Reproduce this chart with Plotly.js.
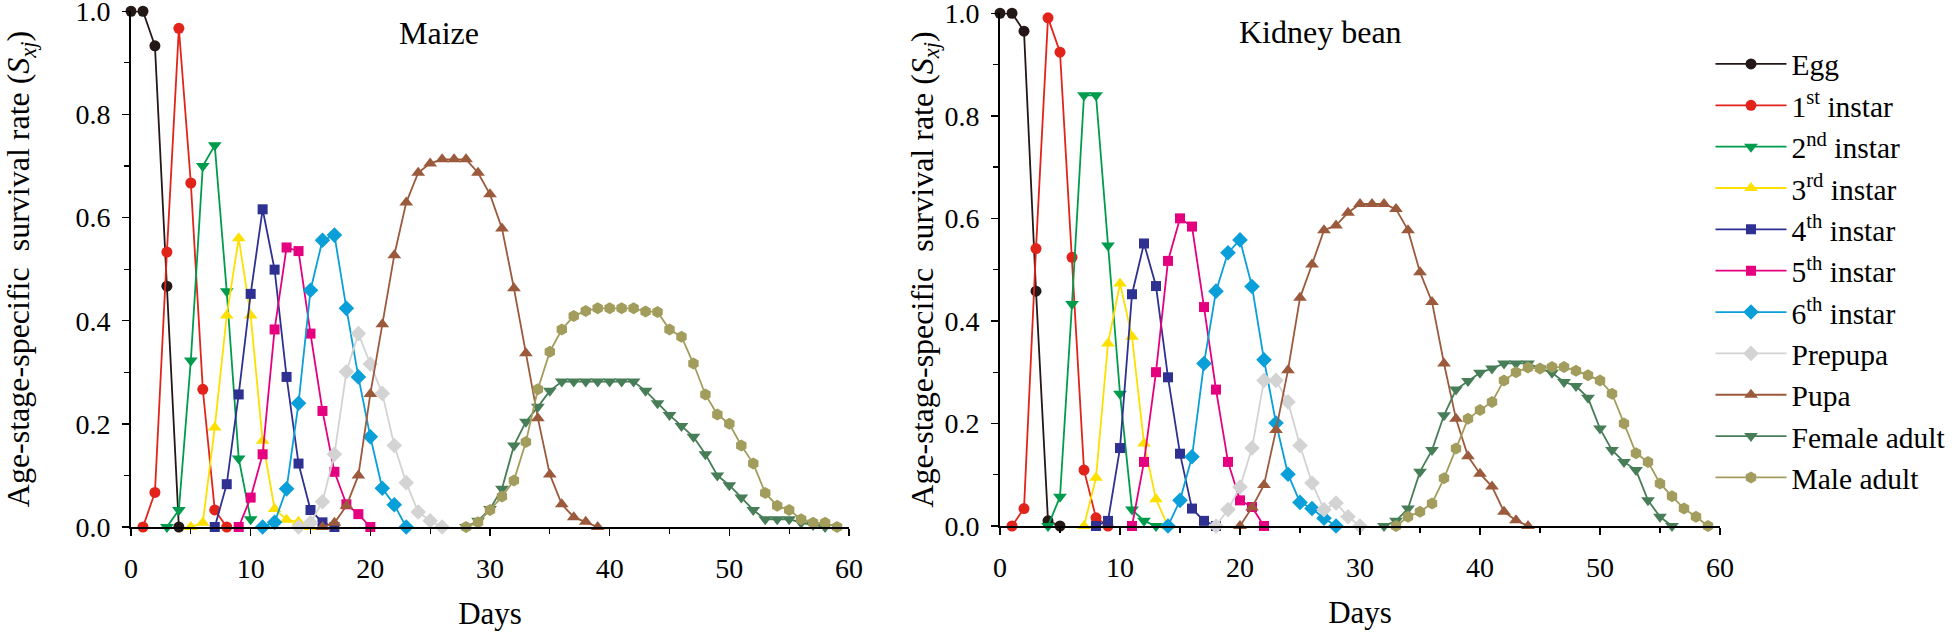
<!DOCTYPE html>
<html>
<head>
<meta charset="utf-8">
<script src="https://cdn.plot.ly/plotly-3.0.1.min.js"></script>
<style>html,body{margin:0;padding:0;background:#fff;}#chart{width:1960px;height:638px;}</style>
</head>
<body>
<div id="chart"></div>
<script>
// ---------- Series names ----------
const seriesNames = ["Egg", "1<sup>st</sup> instar", "2<sup>nd</sup> instar", "3<sup>rd</sup> instar",
  "4<sup>th</sup> instar", "5<sup>th</sup> instar", "6<sup>th</sup> instar", "Prepupa", "Pupa",
  "Female adult", "Male adult"];

// ---------- Maize (left panel) ----------
const maizeEggX = [0, 1, 2, 3, 4];
const maizeEggY = [1.0, 1.0, 0.933, 0.467, 0];
const maize1X = [1, 2, 3, 4, 5, 6, 7, 8];
const maize1Y = [0, 0.067, 0.533, 0.967, 0.667, 0.267, 0.033, 0];
const maize2X = [3, 4, 5, 6, 7, 8, 9, 10];
const maize2Y = [0, 0.033, 0.323, 0.700, 0.740, 0.457, 0.133, 0.015];
const maize3X = [5, 6, 7, 8, 9, 10, 11, 12, 13, 14, 15];
const maize3Y = [0, 0.008, 0.193, 0.41, 0.56, 0.41, 0.167, 0.035, 0.014, 0.01, 0];
const maize4X = [7, 8, 9, 10, 11, 12, 13, 14, 15, 16, 17];
const maize4Y = [0, 0.083, 0.257, 0.452, 0.616, 0.499, 0.291, 0.123, 0.033, 0.009, 0];
const maize5X = [9, 10, 11, 12, 13, 14, 15, 16, 17, 18, 19, 20];
const maize5Y = [0, 0.057, 0.141, 0.383, 0.542, 0.535, 0.375, 0.225, 0.107, 0.044, 0.025, 0];
const maize6X = [11, 12, 13, 14, 15, 16, 17, 18, 19, 20, 21, 22, 23];
const maize6Y = [0, 0.009, 0.074, 0.24, 0.459, 0.556, 0.566, 0.424, 0.291, 0.175, 0.075, 0.043, 0];
const maizePreX = [14, 15, 16, 17, 18, 19, 20, 21, 22, 23, 24, 25, 26];
const maizePreY = [0, 0.008, 0.049, 0.141, 0.301, 0.375, 0.316, 0.259, 0.158, 0.086, 0.029, 0.012, 0];
const maizePupaX = [16, 17, 18, 19, 20, 21, 22, 23, 24, 25, 26, 27, 28, 29, 30, 31, 32, 33, 34, 35, 36, 37, 38, 39];
const maizePupaY = [0, 0.008, 0.041, 0.1, 0.258, 0.393, 0.527, 0.629, 0.687, 0.705, 0.713, 0.713, 0.713,
  0.687, 0.645, 0.579, 0.463, 0.337, 0.211, 0.102, 0.044, 0.019, 0.01, 0];
const maizeFemX = [28, 29, 30, 31, 32, 33, 34, 35, 36, 37, 38, 39, 40, 41, 42, 43, 44, 45, 46, 47, 48, 49,
  50, 51, 52, 53, 54, 55, 56, 57, 58];
const maizeFemY = [0, 0.012, 0.035, 0.074, 0.158, 0.204, 0.233, 0.264, 0.282, 0.282, 0.282, 0.282, 0.282,
  0.282, 0.282, 0.264, 0.24, 0.217, 0.196, 0.175, 0.141, 0.1, 0.081, 0.057, 0.033, 0.015, 0.015, 0.015,
  0.008, 0.004, 0];
const maizeMaleX = [28, 29, 30, 31, 32, 33, 34, 35, 36, 37, 38, 39, 40, 41, 42, 43, 44, 45, 46, 47, 48, 49,
  50, 51, 52, 53, 54, 55, 56, 57, 58, 59];
const maizeMaleY = [0, 0.009, 0.033, 0.059, 0.09, 0.165, 0.267, 0.34, 0.383, 0.409, 0.419, 0.424, 0.424,
  0.424, 0.424, 0.418, 0.417, 0.383, 0.369, 0.317, 0.257, 0.218, 0.2, 0.158, 0.123, 0.066, 0.041, 0.033,
  0.015, 0.008, 0.008, 0];

// ---------- Kidney bean (right panel) ----------
const beanEggX = [0, 1, 2, 3, 4, 5];
const beanEggY = [1.0, 1.0, 0.965, 0.458, 0.01, 0];
const bean1X = [1, 2, 3, 4, 5, 6, 7, 8, 9];
const bean1Y = [0, 0.034, 0.541, 0.991, 0.924, 0.524, 0.109, 0.016, 0];
const bean2X = [4, 5, 6, 7, 8, 9, 10, 11, 12, 13];
const bean2Y = [0, 0.057, 0.433, 0.84, 0.84, 0.547, 0.258, 0.032, 0.01, 0];
const bean3X = [7, 8, 9, 10, 11, 12, 13, 14];
const bean3Y = [0, 0.094, 0.356, 0.473, 0.369, 0.161, 0.052, 0];
const bean4X = [8, 9, 10, 11, 12, 13, 14, 15, 16, 17, 18];
const bean4Y = [0, 0.01, 0.152, 0.452, 0.551, 0.468, 0.29, 0.141, 0.034, 0.01, 0];
const bean5X = [11, 12, 13, 14, 15, 16, 17, 18, 19, 20, 21, 22];
const bean5Y = [0, 0.125, 0.3, 0.517, 0.6, 0.584, 0.427, 0.266, 0.125, 0.05, 0.037, 0];
const bean6X = [14, 15, 16, 17, 18, 19, 20, 21, 22, 23, 24, 25, 26, 27, 28];
const bean6Y = [0, 0.05, 0.135, 0.317, 0.458, 0.533, 0.558, 0.467, 0.324, 0.201, 0.101, 0.046, 0.034, 0.015, 0];
const beanPreX = [18, 19, 20, 21, 22, 23, 24, 25, 26, 27, 28, 29, 30];
const beanPreY = [0, 0.032, 0.076, 0.152, 0.284, 0.284, 0.242, 0.157, 0.084, 0.032, 0.045, 0.018, 0];
const beanPupaX = [20, 21, 22, 23, 24, 25, 26, 27, 28, 29, 30, 31, 32, 33, 34, 35, 36, 37, 38, 39, 40, 41, 42, 43, 44];
const beanPupaY = [0, 0.036, 0.08, 0.187, 0.304, 0.445, 0.51, 0.577, 0.586, 0.611, 0.628, 0.628, 0.628,
  0.618, 0.577, 0.495, 0.437, 0.317, 0.209, 0.136, 0.102, 0.077, 0.028, 0.011, 0];
const beanFemX = [32, 33, 34, 35, 36, 37, 38, 39, 40, 41, 42, 43, 44, 45, 46, 47, 48, 49, 50, 51, 52, 53, 54, 55, 56];
const beanFemY = [0, 0.01, 0.034, 0.106, 0.148, 0.216, 0.266, 0.283, 0.299, 0.307, 0.317, 0.317, 0.317,
  0.307, 0.299, 0.281, 0.273, 0.25, 0.19, 0.148, 0.125, 0.109, 0.05, 0.018, 0];
const beanMaleX = [33, 34, 35, 36, 37, 38, 39, 40, 41, 42, 43, 44, 45, 46, 47, 48, 49, 50, 51, 52, 53, 54,
  55, 56, 57, 58, 59];
const beanMaleY = [0, 0.018, 0.028, 0.044, 0.093, 0.151, 0.209, 0.226, 0.242, 0.284, 0.3, 0.309, 0.307,
  0.31, 0.31, 0.303, 0.294, 0.284, 0.258, 0.2, 0.142, 0.125, 0.083, 0.058, 0.034, 0.018, 0];

// ---------- Axis ticks ----------
const xTickVals = [0, 10, 20, 30, 40, 50, 60];
const yTickVals = [0, 0.2, 0.4, 0.6, 0.8, 1.0];
const yTickText = ["0.0", "0.2", "0.4", "0.6", "0.8", "1.0"];

// ---------- Styles ----------
const colors = ["#231815", "#e2231a", "#009b4c", "#fde000", "#2e3192", "#e4007f", "#0a9fd9",
  "#d3d3d3", "#9c5a3c", "#477e58", "#a29d5c"];
const symbols = ["circle", "circle", "triangle-down", "triangle-up", "square", "square", "diamond",
  "diamond", "triangle-up", "triangle-down", "hexagon"];
const sizes = [11, 11, 12, 12, 10, 10, 12, 12, 12, 12, 12];

const maizeData = [[maizeEggX, maizeEggY], [maize1X, maize1Y], [maize2X, maize2Y], [maize3X, maize3Y],
  [maize4X, maize4Y], [maize5X, maize5Y], [maize6X, maize6Y], [maizePreX, maizePreY],
  [maizePupaX, maizePupaY], [maizeFemX, maizeFemY], [maizeMaleX, maizeMaleY]];
const beanData = [[beanEggX, beanEggY], [bean1X, bean1Y], [bean2X, bean2Y], [bean3X, bean3Y],
  [bean4X, bean4Y], [bean5X, bean5Y], [bean6X, bean6Y], [beanPreX, beanPreY],
  [beanPupaX, beanPupaY], [beanFemX, beanFemY], [beanMaleX, beanMaleY]];

const FONT = "Liberation Serif";
const traces = [];
function addTraces(data, xa, ya, showLegend) {
  data.forEach((d, i) => {
    traces.push({
      type: "scatter", mode: "lines+markers",
      x: d[0], y: d[1], xaxis: xa, yaxis: ya,
      name: seriesNames[i], legendgroup: "g" + i, showlegend: showLegend,
      cliponaxis: false,
      line: {color: colors[i], width: 1.8},
      marker: {color: colors[i], symbol: symbols[i], size: sizes[i], line: {width: 0}}
    });
  });
}
addTraces(maizeData, "x", "y", false);
addTraces(beanData, "x2", "y2", true);

function xAxis(domain, anchor) {
  return {
    domain: domain, anchor: anchor, range: [0, 60], tickvals: xTickVals,
    showline: true, linecolor: "#000", linewidth: 2, ticks: "outside", ticklen: 7, tickwidth: 1.5,
    tickcolor: "#000", showgrid: false, zeroline: false,
    minor: {ticks: "outside", ticklen: 5, tickwidth: 1.2, tickcolor: "#000", dtick: 5, tick0: 0, showgrid: false},
    tickfont: {family: FONT, size: 28, color: "#000"},
    ticklabelstandoff: 8, ticklabeloverflow: "allow",
    title: {text: "Days", font: {family: FONT, size: 31, color: "#000"}, standoff: 20}
  };
}
function yAxis(domain, anchor, standoff) {
  return {
    domain: domain, anchor: anchor, range: [0, 1.0005], tickvals: yTickVals, ticktext: yTickText,
    showline: true, linecolor: "#000", linewidth: 2, ticks: "outside", ticklen: 7, tickwidth: 1.5,
    tickcolor: "#000", showgrid: false, zeroline: false,
    minor: {ticks: "outside", ticklen: 5, tickwidth: 1.2, tickcolor: "#000", dtick: 0.1, tick0: 0, showgrid: false},
    tickfont: {family: FONT, size: 28, color: "#000"},
    ticklabelstandoff: 6, ticklabeloverflow: "allow",
    title: {text: "Age-stage-specific\u00a0 survival rate (<i>S</i><sub><i>xj</i></sub>)",
      font: {family: FONT, size: 32, color: "#000"}, standoff: standoff}
  };
}

const layout = {
  width: 1960, height: 638,
  margin: {l: 0, r: 0, t: 0, b: 0},
  paper_bgcolor: "#fff", plot_bgcolor: "#fff",
  font: {family: FONT, color: "#000"},
  xaxis: xAxis([131 / 1960, 849 / 1960], "y"),
  yaxis: yAxis([111 / 638, 627 / 638], "x", 38),
  xaxis2: xAxis([1000 / 1960, 1720 / 1960], "y2"),
  yaxis2: yAxis([112 / 638, 625 / 638], "x2", 1),
  showlegend: true,
  legend: {
    x: 0.8727, y: 0.94, xanchor: "left", yanchor: "top",
    font: {family: FONT, size: 29.5, color: "#000"},
    bgcolor: "rgba(0,0,0,0)", tracegroupgap: 0, itemwidth: 71
  },
  annotations: [
    {text: "Maize", xref: "x", yref: "y", x: 22.25, y: 0.957, xanchor: "left", yanchor: "middle",
      showarrow: false, font: {family: FONT, size: 32, color: "#000"}},
    {text: "Kidney bean", xref: "x2", yref: "y2", x: 19.75, y: 0.963, xanchor: "left", yanchor: "middle",
      showarrow: false, font: {family: FONT, size: 32, color: "#000"}}
  ]
};

Plotly.newPlot("chart", traces, layout, {staticPlot: true, displayModeBar: false});
</script>
</body>
</html>
